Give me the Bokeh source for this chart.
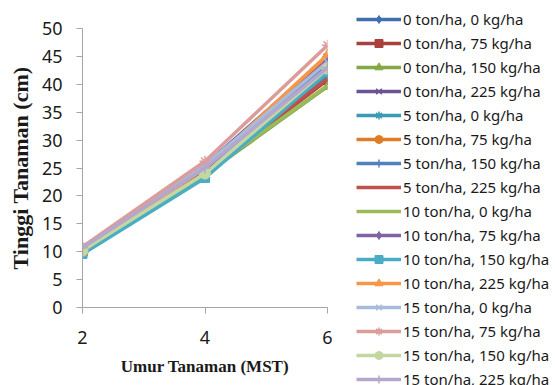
from bokeh.plotting import figure
from bokeh.layouts import row, column
from bokeh.models import Legend, LegendItem, Range1d, FixedTicker
from bokeh.embed import file_html
from bokeh.resources import INLINE

weeks = [2, 4, 6]
labels = ["0 ton/ha, 0 kg/ha", "0 ton/ha, 75 kg/ha", "0 ton/ha, 150 kg/ha", "0 ton/ha, 225 kg/ha",
          "5 ton/ha, 0 kg/ha", "5 ton/ha, 75 kg/ha", "5 ton/ha, 150 kg/ha", "5 ton/ha, 225 kg/ha",
          "10 ton/ha, 0 kg/ha", "10 ton/ha, 75 kg/ha", "10 ton/ha, 150 kg/ha", "10 ton/ha, 225 kg/ha",
          "15 ton/ha, 0 kg/ha", "15 ton/ha, 75 kg/ha", "15 ton/ha, 150 kg/ha", "15 ton/ha, 225 kg/ha"]
s01 = [10.2, 24.5, 43.5]
s02 = [10.0, 24.0, 40.8]
s03 = [10.1, 23.8, 39.6]
s04 = [10.5, 25.5, 44.8]
s05 = [10.3, 24.3, 41.5]
s06 = [9.9, 24.8, 44.5]
s07 = [10.4, 24.6, 43.8]
s08 = [10.2, 24.2, 41.0]
s09 = [10.0, 24.0, 39.8]
s10 = [10.6, 25.2, 44.2]
s11 = [9.6, 23.2, 42.2]
s12 = [10.1, 25.0, 45.3]
s13 = [10.8, 25.5, 44.0]
s14 = [10.9, 26.2, 47.0]
s15 = [10.2, 24.0, 42.8]
s16 = [10.7, 25.0, 43.0]
series = [s01, s02, s03, s04, s05, s06, s07, s08, s09, s10, s11, s12, s13, s14, s15, s16]
y_ticks = [0, 5, 10, 15, 20, 25, 30, 35, 40, 45, 50]

colors = ["#3F6FAE", "#A9403E", "#84A844", "#6C5394", "#3A9BB3", "#E07B27",
          "#4F81BD", "#C0504D", "#9BBB59", "#8064A2", "#4BACC6", "#F79646",
          "#A7BBDD", "#DB9D9B", "#C4D7A0", "#B4A7CB"]
markers = ["diamond", "square", "triangle", "x", "asterisk", "circle", "cross", None,
           None, "diamond", "square", "triangle", "x", "asterisk", "circle", "cross"]
msizes = {"diamond": 11, "square": 9, "triangle": 10, "x": 11, "asterisk": 11, "circle": 11, "cross": 11}

p = figure(width=337, height=385, output_backend="svg", toolbar_location=None,
           x_range=Range1d(2, 6), y_range=Range1d(0, 50),
           min_border_left=82, min_border_right=10, min_border_top=28, min_border_bottom=78)
p.outline_line_color = None
p.xgrid.visible = False
p.ygrid.visible = False
p.border_fill_color = "white"

lg = figure(width=218, height=385, output_backend="svg", toolbar_location=None,
            x_range=Range1d(0, 1), y_range=Range1d(0, 1),
            min_border_left=0, min_border_right=0, min_border_top=0, min_border_bottom=0)
lg.axis.visible = False
lg.grid.visible = False
lg.outline_line_color = None


def draw(fig, xs, ys, col, mk):
    rs = [fig.line(xs, ys, line_color=col, line_width=3.5)]
    if mk is not None:
        if mk in ("x", "asterisk", "cross"):
            rs.append(fig.scatter(xs, ys, marker=mk, size=msizes[mk], line_color=col,
                                  fill_color=col, line_width=1.5))
        else:
            rs.append(fig.scatter(xs, ys, marker=mk, size=msizes[mk], line_color=col,
                                  fill_color=col))
    return rs


items = []
for vals, lab, col, mk in zip(series, labels, colors, markers):
    draw(p, weeks, vals, col, mk)
    rs = draw(lg, [float("nan")], [float("nan")], col, mk)
    items.append(LegendItem(label=lab, renderers=rs))

legend = Legend(items=items, location=(19, -4), orientation="vertical",
                label_text_font="Noto Sans", label_text_font_size="15px",
                label_text_color="#1a1a1a", glyph_width=45, glyph_height=20,
                label_height=20, spacing=4, padding=0, margin=0,
                label_standoff=2, border_line_color=None, background_fill_alpha=0)
lg.add_layout(legend, "center")

for ax in (p.xaxis[0], p.yaxis[0]):
    ax.axis_line_color = "#A6A6A6"
    ax.major_tick_line_color = "#A6A6A6"
    ax.minor_tick_line_color = None
    ax.major_tick_in = 0
    ax.major_tick_out = 6
    ax.major_label_text_font = "Noto Sans"
    ax.major_label_text_font_size = "18px"
    ax.major_label_text_color = "#1a1a1a"
    ax.axis_label_text_font = "Liberation Serif"
    ax.axis_label_text_font_style = "bold"
    ax.axis_label_text_color = "#1a1a1a"

p.yaxis.ticker = FixedTicker(ticks=y_ticks)
p.xaxis.ticker = FixedTicker(ticks=weeks)
p.yaxis.major_label_standoff = 14
p.xaxis.major_label_standoff = 17
p.yaxis.axis_label = "Tinggi Tanaman (cm)"
p.yaxis.axis_label_text_font_size = "22px"
p.yaxis.axis_label_standoff = 6
p.xaxis.axis_label = "Umur Tanaman (MST)"
p.xaxis.axis_label_text_font_size = "17px"
p.xaxis.axis_label_standoff = 10

layout = row(column(p), column(lg), spacing=0)
open("out.html", "w").write(file_html(layout, INLINE))
